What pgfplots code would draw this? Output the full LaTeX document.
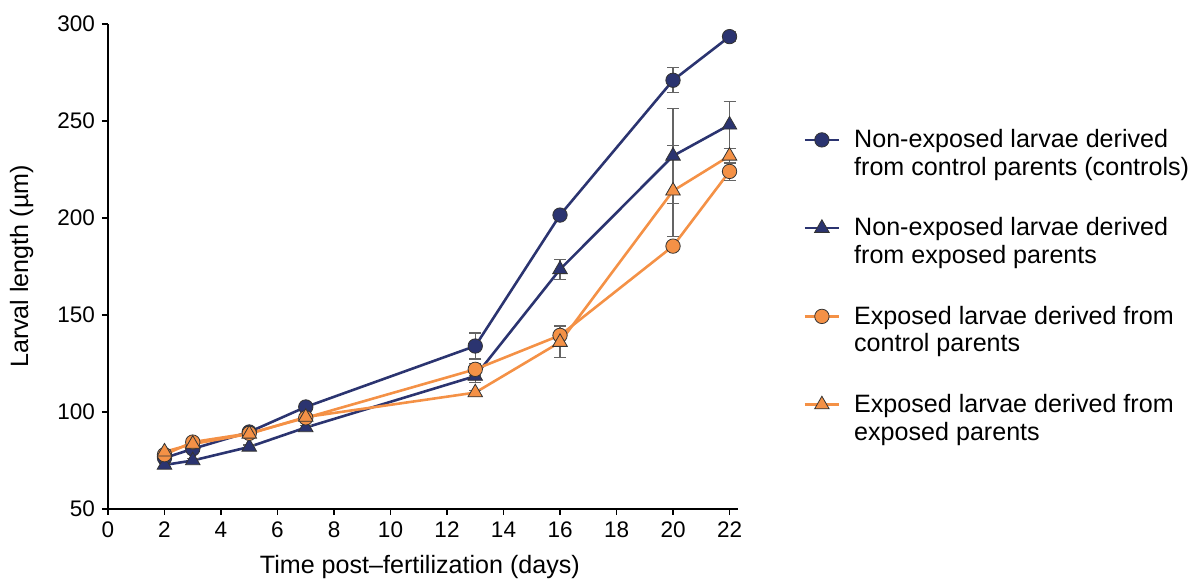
\documentclass[border=0pt]{standalone}
\usepackage{pgfplots}
\pgfplotsset{compat=1.18}
\usepackage{fontspec}
\setmainfont{Liberation Sans}
\definecolor{navy}{RGB}{43,52,112}
\definecolor{orng}{RGB}{244,145,70}
\definecolor{ebar}{RGB}{100,100,100}
\begin{document}
\begin{tikzpicture}
\useasboundingbox (-54bp,-36bp) rectangle (544bp,254.5bp);
\begin{axis}[
  scale only axis,
  width=315bp, height=242.5bp,
  xmin=0, xmax=22.3, ymin=50, ymax=300,
  xtick={0,2,...,22}, ytick={50,100,...,300},
  axis x line*=bottom, axis y line*=left,
  tick align=outside, major tick length=3bp,
  tick style={black, line width=0.6pt},
  axis line style={black, line width=0.7pt},
  /pgf/number format/assume math mode=true,
  ticklabel style={font=\fontsize{11.3}{13}\selectfont},
  xlabel={Time post--fertilization (days)},
  ylabel={Larval length (\textmu m)},
  label style={font=\fontsize{12.6}{14}\selectfont},
  xlabel style={at={(axis description cs:0.495,0)}, anchor=center, yshift=-29bp},
  ylabel style={at={(axis description cs:-0.137,0.5)}, anchor=center},
  legend style={draw=none, at={(rel axis cs:1.094,0.80)}, anchor=north west,
    font=\fontsize{12.6}{14}\selectfont, nodes={align=left}, row sep=15.6bp},
  legend cell align=left,
  legend image code/.code={%
    \draw[mark repeat=2,mark phase=2,#1] plot coordinates {(0cm,0cm) (0.3cm,0cm) (0.6cm,0cm)};
    \path (0.6cm+5bp,0cm);},
  legend image post style={yshift=7bp},
  error bars/error bar style={ebar, line width=0.6pt},
  error bars/error mark options={ebar, rotate=90, mark size=3bp, line width=0.6pt},
]
\addplot[navy, line width=1.3pt, mark=*, mark size=3.6bp,
  mark options={draw=black!80, line width=0.4pt, fill=navy},
  error bars/.cd, y dir=both, y explicit]
  coordinates {(2,76.3) +- (0,1) (3,81) +- (0,1) (5,89.7) +- (0,1) (7,102.6) +- (0,1)
    (13,134) +- (0,6.7) (16,201.5) +- (0,1.5) (20,271) +- (0,6.5) (22,293.5) +- (0,2.5)};
\addlegendentry{Non-exposed larvae derived\\from control parents (controls)}
\addplot[navy, line width=1.3pt, mark=triangle*, mark size=4.2bp,
  mark options={draw=black!80, line width=0.4pt, fill=navy},
  error bars/.cd, y dir=both, y explicit]
  coordinates {(2,72.7) +- (0,1) (3,75) +- (0,1) (5,82) +- (0,1) (7,92) +- (0,1)
    (13,118.5) +- (0,3.5) (16,173.5) +- (0,5) (20,232) +- (0,24.5) (22,248) +- (0,12)};
\addlegendentry{Non-exposed larvae derived\\from exposed parents}
\addplot[orng, line width=1.3pt, mark=*, mark size=3.6bp,
  mark options={draw=black!80, line width=0.4pt, fill=orng},
  error bars/.cd, y dir=both, y explicit]
  coordinates {(2,78) +- (0,1) (3,84.5) +- (0,1) (5,89) +- (0,1) (7,97) +- (0,1)
    (13,122) +- (0,3) (16,139.5) +- (0,5) (20,185.5) +- (0,1.5) (22,224) +- (0,4.5)};
\addlegendentry{Exposed larvae derived from\\control parents}
\addplot[orng, line width=1.3pt, mark=triangle*, mark size=4.2bp,
  mark options={draw=black!80, line width=0.4pt, fill=orng},
  error bars/.cd, y dir=both, y explicit]
  coordinates {(2,79.5) +- (0,1) (3,83.5) +- (0,1) (5,88.7) +- (0,1) (7,97.4) +- (0,1)
    (13,110) +- (0,1) (16,136) +- (0,8) (20,214) +- (0,23.5) (22,232) +- (0,4)};
\addlegendentry{Exposed larvae derived from\\exposed parents}
\end{axis}
\end{tikzpicture}
\end{document}
